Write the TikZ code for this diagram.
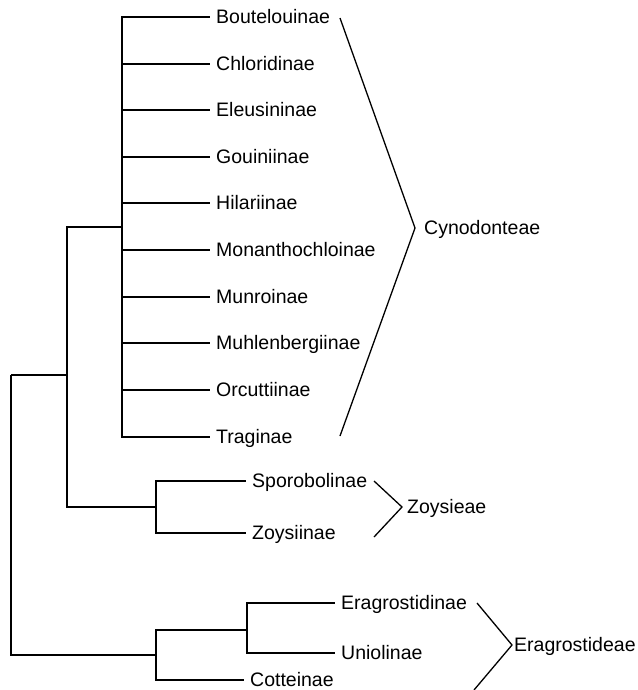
\documentclass[tikz,border=0pt]{standalone}
\usepackage{fontspec}
\setmainfont{Liberation Sans}
\usetikzlibrary{positioning}
\tikzstyle{leaf} = [anchor=west, inner sep=6pt, font=\fontsize{19.5pt}{23pt}\selectfont, text height=13.8pt, text depth=0pt]
\tikzstyle{tribe} = [inner sep=0pt, font=\fontsize{19.5pt}{23pt}\selectfont, text height=13.8pt, text depth=0pt]
\tikzstyle{branch} = [line width=1.3pt]
\tikzstyle{brace} = [line width=1.3pt]
\begin{document}
\begin{tikzpicture}[x=1pt, y=-1pt]
      \useasboundingbox (0,0) rectangle (637,690);
      \coordinate (root) at (11,375);
      \coordinate (n1) at (67,375);
      \coordinate (cyn) at (122,227);
      \coordinate (zoy) at (156,507);
      \coordinate (era) at (156,655);
      \coordinate (ein) at (247,630);
      \node (bout)[leaf] at (210,17) {Boutelouinae};
      \node (chlo)[leaf] at (210,64) {Chloridinae};
      \node (eleu)[leaf] at (210,110) {Eleusininae};
      \node (goui)[leaf] at (210,157) {Gouiniinae};
      \node (hila)[leaf] at (210,203) {Hilariinae};
      \node (mona)[leaf] at (210,250) {Monanthochloinae};
      \node (munr)[leaf] at (210,297) {Munroinae};
      \node (muhl)[leaf] at (210,343) {Muhlenbergiinae};
      \node (orcu)[leaf] at (210,390) {Orcuttiinae};
      \node (trag)[leaf] at (210,437) {Traginae};
      \node (spor)[leaf] at (246,481) {Sporobolinae};
      \node (zoys)[leaf] at (246,533) {Zoysiinae};
      \node (erag)[leaf] at (335,603) {Eragrostidinae};
      \node (unio)[leaf] at (335,653) {Uniolinae};
      \node (cott)[leaf] at (244,680) {Cotteinae};
      \draw [branch](root) |- (n1);
      \draw [branch](root) |- (era);
      \draw [branch](n1) |- (cyn);
      \draw [branch](n1) |- (zoy);
      \draw [branch](cyn) |- (bout.west);
      \draw [branch](cyn) |- (chlo.west);
      \draw [branch](cyn) |- (eleu.west);
      \draw [branch](cyn) |- (goui.west);
      \draw [branch](cyn) |- (hila.west);
      \draw [branch](cyn) |- (mona.west);
      \draw [branch](cyn) |- (munr.west);
      \draw [branch](cyn) |- (muhl.west);
      \draw [branch](cyn) |- (orcu.west);
      \draw [branch](cyn) |- (trag.west);
      \draw [branch](zoy) |- (spor.west);
      \draw [branch](zoy) |- (zoys.west);
      \draw [branch](era) |- (ein);
      \draw [branch](era) |- (cott.west);
      \draw [branch](ein) |- (erag.west);
      \draw [branch](ein) |- (unio.west);
      \coordinate (cyntop) at (340,18);
      \coordinate (cyntip) at (415,228);
      \coordinate (cynbot) at (340,436);
      \coordinate (zoytop) at (374,481);
      \coordinate (zoytip) at (402,507);
      \coordinate (zoybot) at (374,537);
      \coordinate (eratop) at (477,603);
      \coordinate (eratip) at (512,645);
      \coordinate (erabot) at (474,690);
      \node (tcyn)[tribe, right=9pt of cyntip]{Cynodonteae};
      \node (tzoy)[tribe, right=5pt of zoytip]{Zoysieae};
      \node (tera)[tribe, right=2pt of eratip]{Eragrostideae};
      \draw [brace](cyntop)--(cyntip)--(cynbot);
      \draw [brace](zoytop)--(zoytip)--(zoybot);
      \draw [brace](eratop)--(eratip)--(erabot);
    \end{tikzpicture}
\end{document}
